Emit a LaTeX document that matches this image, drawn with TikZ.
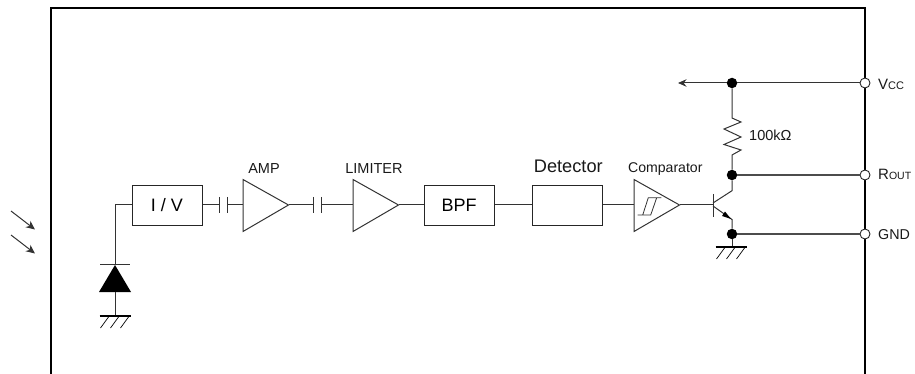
\documentclass[tikz,border=0pt]{standalone}
\usepackage{fontspec}
\setmainfont{Liberation Sans}
\usetikzlibrary{arrows.meta,calc}
\newcommand{\fs}[1]{\fontsize{#1}{#1}\selectfont}
\tikzset{
  x=1pt,y=-1pt,
  wire/.style={line width=1pt,draw=black!80},
  frameline/.style={line width=1.6pt,draw=black},
  block/.style={draw=black!85,line width=1pt,minimum width=70pt,minimum height=40pt,inner sep=0pt,font=\fs{18}},
  dot/.style={circle,fill=black,minimum size=10.5pt,inner sep=0pt},
  pin/.style={circle,draw=black!85,line width=0.9pt,fill=white,minimum size=10pt,inner sep=0pt},
  lab/.style={inner sep=0pt,anchor=base,font=\fs{14.5},text=black!90},
  pinlab/.style={inner sep=0pt,anchor=base west,text=black!90},
  tiparrow/.style={wire,-{Stealth[length=9pt,width=8pt]}},
  gndbar/.style={line width=2.3pt,draw=black},
  hatch/.style={line width=0.7pt,draw=black},
}
\newcommand{\groundsym}[2]{% x, y of bar centre
  \draw[gndbar] (#1-15.5,#2) -- (#1+15.5,#2);
  \foreach \d in {-10,0,10}{\draw[hatch] (#1+\d+3.5,#2+1) -- (#1+\d-4.5,#2+12);}
}
\newcommand{\capsym}[3]{% name, x1, x2
  \coordinate (#1a) at (#2,205); \coordinate (#1b) at (#3,205);
  \draw[wire] (#2,197) -- (#2,213);
  \draw[wire] (#3,197) -- (#3,213);
}
\newcommand{\ampsym}[2]{% name, x left
  \coordinate (#1a) at (#2,179.5);
  \coordinate (#1b) at (#2,231.5);
  \coordinate (#1in) at (#2,205);
  \coordinate (#1out) at (#2+45.5,205);
  \draw[wire] (#1a) -- (#1out) -- (#1b) -- cycle;
}
\begin{document}
\begin{tikzpicture}
\useasboundingbox (0,0) rectangle (915,374);
% package outline (open at the bottom)
\draw[frameline] (51,376) -- (51,8) -- (865,8) -- (865,376);
% blocks
\node[block] (iv) at (167,205.5) {I / V};
\node[block] (bpf) at (459,205.5) {BPF};
\node[block] (det) at (567,205.5) {};
\ampsym{amp}{243}
\ampsym{lim}{353}
\ampsym{cmp}{634}
\capsym{ca}{219}{227}
\capsym{cb}{313}{321}
% labels
\node[lab] at (264,173.3) {AMP};
\node[lab] at (374,173.3) {LIMITER};
\node[lab,font=\fs{18.2}] at (568.3,172.7) {Detector};
\node[lab,font=\fs{14.1}] at (665.3,173) {Comparator};
\node[lab,anchor=base west] at (749,140.7) {100kΩ};
% signal chain
\draw[wire] (caa -| iv.east) -- (caa);
\draw[wire] (cab) -- (ampin);
\draw[wire] (ampout) -- (cba);
\draw[wire] (cbb) -- (limin);
\draw[wire] (limout) -- (limout -| bpf.west);
\draw[wire] (limout -| bpf.east) -- (limout -| det.west);
\draw[wire] (limout -| det.east) -- (cmpin);
% Schmitt symbol in comparator
\draw[wire,line width=0.8pt] (637.5,215) -- (650.7,215) -- (656.7,197.7) -- (661.3,197.7) -- (648.3,197.7) -- (642.7,215);
% photodiode
\coordinate (dtop) at (115,265);
\coordinate (dl) at (99,292);
\coordinate (dr) at (131,292);
\coordinate (gl) at (115,316);
\draw[wire] (iv.west |- 0,205) -- (115,205) -- (dtop);
\draw[wire] (100,264.5) -- (130,264.5);
\fill[black] (dtop) -- (dr) -- (dl) -- cycle;
\draw[wire] (115,292) -- (gl);
\groundsym{115}{316}
% light arrows
\coordinate (l1a) at (11,211); \coordinate (l1b) at (35,229.5);
\coordinate (l2a) at (11,235); \coordinate (l2b) at (35,253.5);
\draw[tiparrow] (l1a) -- (l1b);
\draw[tiparrow] (l2a) -- (l2b);
% output side
\node[dot] (nv) at (732,83) {};
\node[dot] (nr) at (732,175) {};
\node[dot] (ng) at (732,234) {};
\node[pin] (pv) at (865,83) {};
\node[pin] (pr) at (865,175) {};
\node[pin] (pg) at (865,234) {};
\coordinate (tip) at (678,83);
\draw[wire,-{Stealth[length=8.5pt,width=7.5pt]}] (nv) -- (tip);
\draw[wire] (nv) -- (pv);
\draw[wire,line width=1.2pt,draw=black!70] (nr) -- (pr);
\draw[wire,line width=1.2pt,draw=black!70] (ng) -- (pg);
\node[pinlab,font=\fs{15}] at (878,90) {V\fs{11}CC};
\node[pinlab,font=\fs{15}] at (878,180) {R\fs{10.5}OUT};
\node[pinlab,font=\fs{14.3}] at (878,239) {GND};
% resistor
\draw[wire] (nv) -- (732,118) -- (741,122) -- (724,129) -- (741,137) -- (724,144.5) -- (741,150) -- (732,155) -- (nr);
% transistor
\coordinate (bb) at (713,205);
\draw[wire] (cmpout) -- (bb);
\draw[wire] (713,194) -- (713,217);
\draw[wire] (nr) -- (732,190.7) -- (713,203);
\draw[wire] (713,206) -- (732,219.5) -- (ng);
\fill[black] (731,219) -- (722,216) -- (725,211.5) -- cycle;
\draw[wire] (ng) -- (732,247);
\groundsym{731}{247}
\end{tikzpicture}
\end{document}
